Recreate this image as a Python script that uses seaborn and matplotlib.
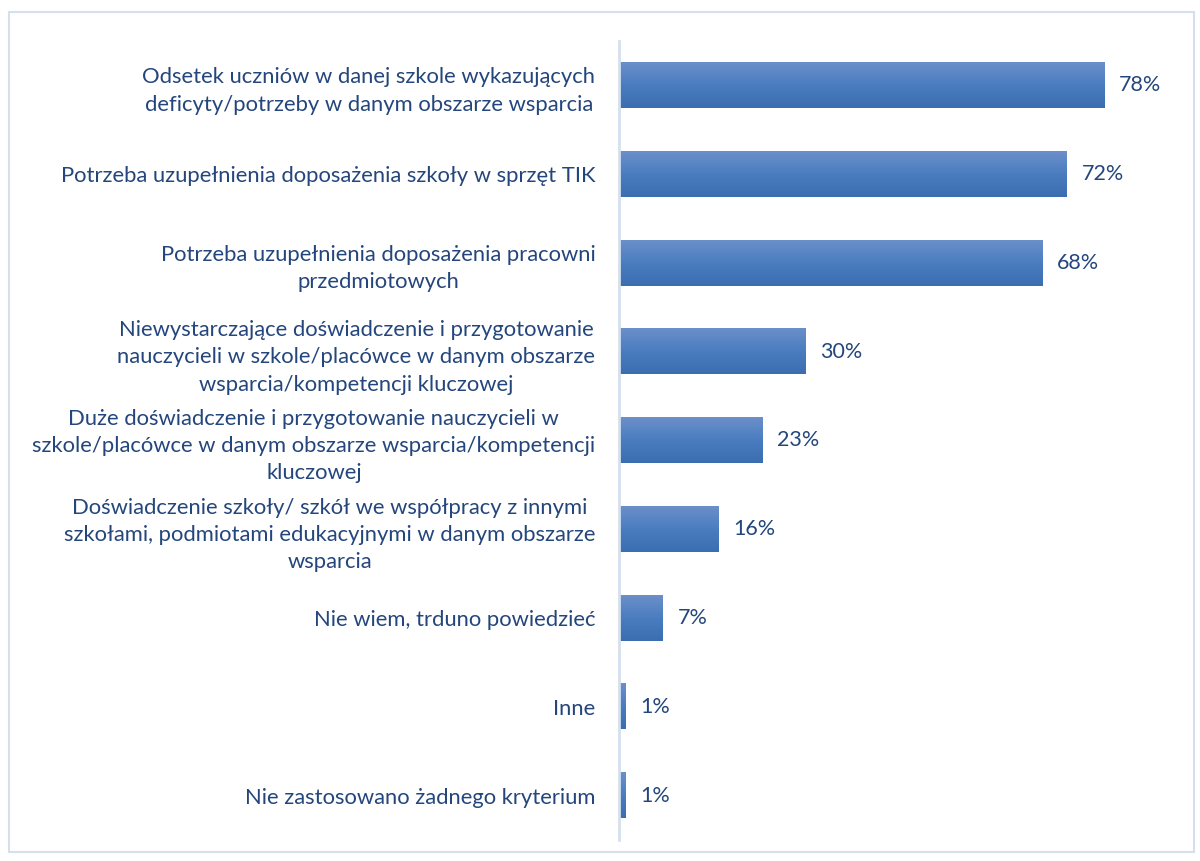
import numpy as np
import pandas as pd
import matplotlib
matplotlib.use("Agg")
import matplotlib.pyplot as plt
from matplotlib.colors import LinearSegmentedColormap
from matplotlib.patches import Rectangle
import seaborn as sns

categories = [
    "Odsetek uczniów w danej szkole wykazujących\ndeficyty/potrzeby w danym obszarze wsparcia",
    "Potrzeba uzupełnienia doposażenia szkoły w sprzęt TIK",
    "Potrzeba uzupełnienia doposażenia pracowni\nprzedmiotowych",
    "Niewystarczające doświadczenie i przygotowanie\nnauczycieli w szkole/placówce w danym obszarze\nwsparcia/kompetencji kluczowej",
    "Duże doświadczenie i przygotowanie nauczycieli w\nszkole/placówce w danym obszarze wsparcia/kompetencji\nkluczowej",
    "Doświadczenie szkoły/ szkół we współpracy z innymi\nszkołami, podmiotami edukacyjnymi w danym obszarze\nwsparcia",
    "Nie wiem, trduno powiedzieć",
    "Inne",
    "Nie zastosowano żadnego kryterium",
]
values = [78, 72, 68, 30, 23, 16, 7, 1, 1]

TEXT = "#24467c"
sns.set_theme(style="white")
plt.rcParams["font.family"] = ["Lato", "DejaVu Sans"]

df = pd.DataFrame({"cat": categories, "val": values})

fig = plt.figure(figsize=(12, 8.61), dpi=100)
ax = fig.add_axes([619 / 1200, 1 - 840 / 861, 560 / 1200, 799 / 861])

sns.barplot(data=df, x="val", y="cat", orient="h", color="#4a7bbf",
            width=0.51, ax=ax, saturation=1)

# vertical gradient fill for each bar
grad = LinearSegmentedColormap.from_list("bar", ["#6b8fc9", "#4a7dc0", "#3a6eb1"])
g = np.linspace(0, 1, 64).reshape(-1, 1)
for p in ax.patches:
    x0, y0 = p.get_x(), p.get_y()
    w, h = p.get_width(), p.get_height()
    p.set_facecolor("none")
    p.set_edgecolor("none")
    ax.imshow(g, cmap=grad, aspect="auto", extent=(x0, x0 + w, y0 + h, y0),
              origin="upper", zorder=2, interpolation="bilinear")

ax.set_xlim(0, 90)
ax.set_ylim(len(categories) - 0.5, -0.5)
ax.set_xlabel("")
ax.set_ylabel("")
ax.set_xticks([])

for i, v in enumerate(values):
    ax.text(v + 2.4, i, f"{v}%", va="center", ha="left", fontsize=15.5, color=TEXT)

ax.tick_params(axis="y", length=0, pad=17, labelsize=15.8, labelcolor=TEXT)
for lab in ax.get_yticklabels():
    lab.set_multialignment("center")
    lab.set_linespacing(1.45)

for s in ["top", "right", "bottom"]:
    ax.spines[s].set_visible(False)
ax.spines["left"].set_color("#d5e0ef")
ax.spines["left"].set_linewidth(2)

# chart-area frame
fig.patches.append(Rectangle((9 / 1200, 1 - 852 / 861), 1185 / 1200, 840 / 861,
                             transform=fig.transFigure, fill=False,
                             edgecolor="#d5e0ef", linewidth=1.5))

fig.savefig("out.png", dpi=100, facecolor="white")
